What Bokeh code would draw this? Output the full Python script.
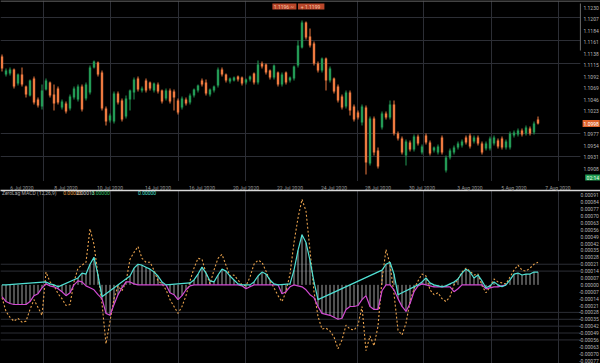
from bokeh.plotting import figure
from bokeh.models import ColumnDataSource, Range1d, FixedTicker, Span
from bokeh.core.properties import value
from bokeh.layouts import column
from bokeh.embed import file_html
from bokeh.resources import INLINE

# ---------------- price data (OHLC) ----------------
open_ = [1.1132, 1.1096, 1.1098, 1.1106, 1.1078, 1.1096, 1.1072, 1.1054, 1.1088, 1.1046,
         1.1032, 1.1066, 1.1080, 1.1056, 1.1068, 1.1030, 1.1038, 1.1028, 1.1050, 1.1046,
         1.1072, 1.1048, 1.1060, 1.1110, 1.1120, 1.1100, 1.1028, 1.1004, 1.1002, 1.1058,
         1.1044, 1.1012, 1.1046, 1.1060, 1.1088, 1.1064, 1.1084, 1.1080, 1.1064, 1.1076,
         1.1064, 1.1048, 1.1064, 1.1062, 1.1044, 1.1030, 1.1046, 1.1040, 1.1054, 1.1064,
         1.1084, 1.1080, 1.1056, 1.1064, 1.1074, 1.1106, 1.1096, 1.1082, 1.1084, 1.1092,
         1.1090, 1.1080, 1.1086, 1.1098, 1.1080, 1.1118, 1.1116, 1.1104, 1.1090, 1.1100,
         1.1076, 1.1100, 1.1084, 1.1088, 1.1114, 1.1150, 1.1200, 1.1172, 1.1158, 1.1118,
         1.1104, 1.1128, 1.1084, 1.1088, 1.1072, 1.1052, 1.1032, 1.1060, 1.1032, 1.1020,
         1.1000, 1.1030, 1.0918, 1.1008, 1.0944, 1.0990, 1.1018, 1.1010, 1.1036, 1.0978,
         1.0968, 1.0934, 1.0960, 1.0946, 1.0972, 1.0940, 1.0974, 1.0960, 1.0944, 1.0940,
         1.0970, 1.0904, 1.0930, 1.0940, 1.0950, 1.0954, 1.0970, 1.0974, 1.0962, 1.0970,
         1.0958, 1.0948, 1.0948, 1.0958, 1.0964, 1.0968, 1.0950, 1.0950, 1.0974, 1.0976,
         1.0984, 1.0978, 1.0988, 1.0980, 1.1006]
close = [1.1108, 1.1104, 1.1106, 1.1072, 1.1096, 1.1076, 1.1056, 1.1084, 1.1040, 1.1034,
         1.1064, 1.1084, 1.1054, 1.1038, 1.1040, 1.1042, 1.1022, 1.1052, 1.1068, 1.1072,
         1.1026, 1.1076, 1.1110, 1.1122, 1.1096, 1.1028, 1.1002, 1.1014, 1.1058, 1.1040,
         1.1006, 1.1048, 1.1064, 1.1086, 1.1066, 1.1068, 1.1064, 1.1068, 1.1078, 1.1062,
         1.1042, 1.1064, 1.1042, 1.1050, 1.1020, 1.1048, 1.1038, 1.1054, 1.1066, 1.1074,
         1.1076, 1.1058, 1.1066, 1.1072, 1.1106, 1.1096, 1.1084, 1.1088, 1.1090, 1.1086,
         1.1078, 1.1086, 1.1092, 1.1080, 1.1116, 1.1112, 1.1100, 1.1090, 1.1114, 1.1076,
         1.1096, 1.1080, 1.1090, 1.1112, 1.1154, 1.1200, 1.1170, 1.1154, 1.1118, 1.1104,
         1.1128, 1.1084, 1.1108, 1.1062, 1.1044, 1.1030, 1.1060, 1.1024, 1.1006, 1.1010,
         1.1032, 1.0920, 1.1008, 1.0940, 1.0912, 1.1018, 1.1010, 1.1036, 1.0978, 1.0968,
         1.0940, 1.0962, 1.0946, 1.0972, 1.0958, 1.0952, 1.0960, 1.0938, 1.0950, 1.0952,
         1.0940, 1.0930, 1.0944, 1.0950, 1.0958, 1.0962, 1.0960, 1.0952, 1.0970, 1.0958,
         1.0940, 1.0958, 1.0968, 1.0970, 1.0952, 1.0950, 1.0962, 1.0978, 1.0980, 1.0984,
         1.0976, 1.0990, 1.0978, 1.0998, 1.0998]
high = [1.1136, 1.1108, 1.1110, 1.1108, 1.1098, 1.1110, 1.1074, 1.1086, 1.1092, 1.1050,
        1.1076, 1.1088, 1.1082, 1.1076, 1.1072, 1.1046, 1.1042, 1.1056, 1.1072, 1.1076,
        1.1076, 1.1080, 1.1114, 1.1124, 1.1122, 1.1104, 1.1032, 1.1018, 1.1062, 1.1062,
        1.1048, 1.1054, 1.1066, 1.1090, 1.1092, 1.1072, 1.1088, 1.1082, 1.1080, 1.1080,
        1.1066, 1.1068, 1.1068, 1.1066, 1.1048, 1.1052, 1.1050, 1.1058, 1.1068, 1.1076,
        1.1088, 1.1086, 1.1068, 1.1074, 1.1110, 1.1110, 1.1098, 1.1090, 1.1092, 1.1094,
        1.1092, 1.1088, 1.1094, 1.1100, 1.1124, 1.1122, 1.1118, 1.1106, 1.1116, 1.1102,
        1.1100, 1.1102, 1.1092, 1.1114, 1.1164, 1.1204, 1.1202, 1.1188, 1.1162, 1.1122,
        1.1130, 1.1130, 1.1112, 1.1090, 1.1076, 1.1056, 1.1064, 1.1064, 1.1036, 1.1024,
        1.1036, 1.1034, 1.1012, 1.1012, 1.0950, 1.1022, 1.1022, 1.1044, 1.1044, 1.0982,
        1.0972, 1.0966, 1.0964, 1.0976, 1.0976, 1.0956, 1.0978, 1.0964, 1.0952, 1.0956,
        1.0974, 1.0934, 1.0948, 1.0954, 1.0962, 1.0966, 1.0974, 1.0978, 1.0974, 1.0974,
        1.0962, 1.0962, 1.0972, 1.0974, 1.0968, 1.0972, 1.0966, 1.0982, 1.0984, 1.0988,
        1.0988, 1.0994, 1.0992, 1.1002, 1.1012]
low = [1.1102, 1.1092, 1.1094, 1.1068, 1.1074, 1.1072, 1.1050, 1.1052, 1.1036, 1.1030,
       1.1026, 1.1064, 1.1050, 1.1024, 1.1036, 1.1026, 1.1018, 1.1024, 1.1046, 1.1042,
       1.1022, 1.1044, 1.1056, 1.1108, 1.1092, 1.1024, 1.0994, 1.1000, 1.0998, 1.1036,
       1.1002, 1.1008, 1.1024, 1.1046, 1.1062, 1.1060, 1.1060, 1.1064, 1.1060, 1.1058,
       1.1038, 1.1044, 1.1038, 1.1024, 1.1016, 1.1026, 1.1034, 1.1036, 1.1050, 1.1060,
       1.1072, 1.1054, 1.1052, 1.1060, 1.1070, 1.1092, 1.1080, 1.1078, 1.1082, 1.1082,
       1.1074, 1.1076, 1.1082, 1.1076, 1.1076, 1.1108, 1.1096, 1.1086, 1.1086, 1.1072,
       1.1072, 1.1076, 1.1080, 1.1084, 1.1110, 1.1148, 1.1166, 1.1150, 1.1114, 1.1100,
       1.1100, 1.1064, 1.1080, 1.1058, 1.1040, 1.1026, 1.1028, 1.1014, 1.1002, 1.1006,
       1.0994, 1.0896, 1.0914, 1.0934, 1.0908, 1.0986, 1.1006, 1.1006, 1.0974, 1.0964,
       1.0936, 1.0914, 1.0942, 1.0942, 1.0954, 1.0936, 1.0956, 1.0934, 1.0940, 1.0936,
       1.0936, 1.0900, 1.0926, 1.0936, 1.0946, 1.0950, 1.0956, 1.0948, 1.0958, 1.0954,
       1.0936, 1.0944, 1.0944, 1.0954, 1.0948, 1.0946, 1.0946, 1.0946, 1.0970, 1.0972,
       1.0972, 1.0974, 1.0974, 1.0976, 1.0996]

# ---------------- oscillator data ----------------
osc = [-0.00013, -0.00027, -0.00033, -0.00037, -0.00034, -0.00038, -0.00037, -0.00025, -0.00015, -0.00023,
       -0.00031, 0.00013, 0.00003, -0.00001, -0.00009, -0.00014, -0.00021, -0.00020, 0.00003, 0.00017,
       0.00020, 0.00023, 0.00057, 0.00041, 0.00010, -0.00019, -0.00060, -0.00037, -0.00014, -0.00001,
       -0.00006, 0.00003, 0.00026, 0.00033, 0.00039, 0.00027, 0.00023, 0.00023, 0.00015, 0.00004,
       0.00001, -0.00005, -0.00015, -0.00022, -0.00029, -0.00022, -0.00011, 0.00004, 0.00017, 0.00027,
       0.00026, 0.00012, 0.00001, 0.00015, 0.00027, 0.00031, 0.00020, 0.00009, 0.00010, 0.00005,
       0.00000, -0.00001, 0.00008, 0.00021, 0.00025, 0.00023, 0.00014, 0.00004, -0.00003, -0.00011,
       -0.00017, -0.00007, 0.00011, 0.00043, 0.00068, 0.00087, 0.00075, 0.00035, -0.00007, -0.00032,
       -0.00045, -0.00044, -0.00047, -0.00053, -0.00065, -0.00056, -0.00041, -0.00045, -0.00046, -0.00041,
       -0.00022, -0.00067, -0.00052, -0.00062, -0.00042, 0.00005, 0.00036, 0.00021, -0.00009, -0.00046,
       -0.00051, -0.00039, -0.00017, -0.00004, 0.00004, 0.00011, 0.00009, -0.00005, -0.00010, -0.00008,
       -0.00014, -0.00017, -0.00012, 0.00000, 0.00006, 0.00013, 0.00017, 0.00014, 0.00010, 0.00011,
       -0.00001, -0.00008, -0.00002, 0.00006, 0.00003, 0.00002, 0.00001, 0.00008, 0.00015, 0.00020,
       0.00015, 0.00014, 0.00017, 0.00021, 0.00023]
N_ = None
macd_pos = [0.0, 0.0, N_, N_, N_, N_, N_, N_, N_, N_,
            N_, 0.00003, 0.00001, 0.0, -0.00002, N_, N_, N_, N_, 0.00007,
            0.00012, 0.00011, 0.00021, 0.00028, 0.00010, -0.00012, N_, N_, N_, N_,
            N_, N_, 0.00009, 0.00017, 0.00021, 0.00020, 0.00018, 0.00016, 0.00013, 0.00009,
            0.00003, 0.0, N_, N_, N_, N_, N_, 0.00002, 0.00005, 0.00011,
            0.00018, 0.00012, 0.00004, 0.00003, 0.00010, 0.00016, 0.00014, 0.00009, 0.00005, 0.00001,
            0.0, N_, 0.0, 0.00003, 0.00009, 0.00013, 0.00011, 0.00005, 0.00001, 0.0,
            N_, N_, 0.00001, 0.00015, 0.00035, 0.00051, 0.00043, 0.00025, 0.00003, -0.00015,
            N_, N_, N_, N_, N_, N_, N_, N_, N_, N_,
            N_, N_, N_, N_, N_, 0.00015, 0.00021, 0.00023, 0.00011, -0.00010,
            N_, N_, N_, N_, 0.0, 0.00003, 0.00007, 0.00002, 0.0, -0.00001,
            -0.00002, -0.00001, 0.00001, 0.00003, 0.00006, 0.00012, 0.00016, 0.00013, 0.00007, 0.00010,
            0.00004, -0.00003, -0.00001, 0.00003, 0.0, -0.00002, 0.0, 0.00005, 0.00011, 0.00012,
            0.00010, 0.00011, 0.00011, 0.00013, 0.00013]
signal = [-0.00012, -0.00017, -0.00019, -0.00020, -0.00020, -0.00020, -0.00020, -0.00017, -0.00011, -0.00009,
          -0.00003, 0.00001, -0.00001, -0.00002, -0.00004, -0.00007, -0.00011, -0.00008, 0.0, 0.00004,
          0.00003, -0.00001, -0.00003, -0.00005, -0.00010, -0.00014, -0.00029, -0.00031, -0.00020, -0.00010,
          -0.00003, 0.00003, 0.00003, 0.00001, 0.0, 0.0, 0.0, 0.0, 0.0, 0.0,
          0.0, 0.0, -0.00008, -0.00010, -0.00015, -0.00011, -0.00005, -0.00001, 0.0, 0.0,
          0.0, 0.0, 0.0, 0.0, 0.0, 0.0, 0.0, 0.0, 0.0, 0.0,
          -0.00001, -0.00004, -0.00002, 0.0, 0.0, 0.0, 0.0, 0.0, 0.0, 0.0,
          -0.00009, -0.00007, -0.00002, 0.0, -0.00001, -0.00002, -0.00005, -0.00010, -0.00013, -0.00022,
          -0.00029, -0.00030, -0.00031, -0.00033, -0.00035, -0.00034, -0.00025, -0.00022, -0.00022, -0.00021,
          -0.00015, -0.00011, -0.00022, -0.00025, -0.00025, -0.00006, 0.0, 0.0, -0.00005, -0.00014,
          -0.00022, -0.00027, -0.00019, -0.00007, -0.00001, 0.00001, 0.0, -0.00001, -0.00002, -0.00002,
          -0.00002, -0.00002, -0.00002, -0.00007, -0.00004, 0.0, 0.0, 0.0, 0.0, 0.0,
          0.0, -0.00004, -0.00003, -0.00002, -0.00002, -0.00001, 0.0, N_, N_, N_,
          N_, N_, N_, N_, N_]

# ---------------- axis / tick data ----------------
price_ticks = [1.0908, 1.0931, 1.0954, 1.0977, 1.1023, 1.1046, 1.1069, 1.1092, 1.1115,
               1.1138, 1.1161, 1.1184, 1.1207, 1.1230]
price_grid = [1.0932, 1.0978, 1.1118, 1.1164, 1.1210]
osc_ticks = [-0.00077, -0.0007, -0.00063, -0.00056, -0.00049, -0.00042, -0.00035, -0.00028,
             -0.00021, -0.00014, -0.00007, 0.0, 0.00007, 0.00014, 0.00021, 0.00028, 0.00035,
             0.00042, 0.00049, 0.00056, 0.00063, 0.0007, 0.00077, 0.00084, 0.00091]
osc_grid = [0.00021, 0.00014, -0.00028, -0.00035, -0.00042, -0.00049, -0.00056]
grid_bars = [10.4, 27.1, 44.1, 60.9, 88.9, 105.4, 122.4, 139.1]
date_ticks = [5, 16, 27, 39, 50, 61, 72, 83, 94, 105, 117, 128, 139]
date_labels = ["6 Jul 2020", "8 Jul 2020", "10 Jul 2020", "14 Jul 2020", "16 Jul 2020",
               "20 Jul 2020", "22 Jul 2020", "24 Jul 2020", "28 Jul 2020", "30 Jul 2020",
               "3 Aug 2020", "5 Aug 2020", "7 Aug 2020"]
timer_text = "02:14"
header_texts = ["1.1196  ~", "+  1.1199"]

FONT = "Roboto"
BG = "#000000"
GRID = "#2c2e35"
GREEN = "#239a55"
ORANGE = "#ee7a40"
LBL = "#b4b4b4"

X0, X1 = -0.375, 149.625      # bar axis: 4 px per bar over the 600 px frame
GRID_END = 144.6              # horizontal grid lines stop before the price scale
SCALE_X = 149.2               # right edge of the price-scale labels
TAG_X = 147.3                 # centre of the price tags

n = len(close)
xs = list(range(n))
colors = [GREEN if c >= o else ORANGE for o, c in zip(open_, close)]
src = ColumnDataSource(dict(
    x=xs, h=high, l=low,
    top=[max(o, c) for o, c in zip(open_, close)],
    bottom=[min(o, c) for o, c in zip(open_, close)],
    color=colors))

x_range = Range1d(X0, X1)


def base_fig(height, y_range, **kw):
    p = figure(width=600, height=height, x_range=x_range, y_range=y_range,
               output_backend="svg", toolbar_location=None, y_axis_location=None,
               min_border_left=0, min_border_right=0, min_border_top=0, min_border_bottom=0,
               background_fill_color=BG, border_fill_color=BG, outline_line_color=None, **kw)
    p.ygrid.visible = False
    p.xgrid.ticker = FixedTicker(ticks=grid_bars)
    p.xgrid.grid_line_color = GRID
    return p


def scale_labels(p, ticks, fmt):
    p.text(x=[SCALE_X] * len(ticks), y=ticks, text=[fmt.format(t) for t in ticks],
           text_font=value(FONT), text_font_size="5px", text_color=LBL,
           text_align="right", text_baseline="middle")


# ---------------- upper pane ----------------
p1 = base_fig(181, Range1d(1.0882, 1.1244), x_axis_location=None)
p1.segment(x0=[X0] * len(price_grid), y0=price_grid, x1=[GRID_END] * len(price_grid),
           y1=price_grid, line_color=GRID, line_width=1)
p1.segment(x0="x", y0="h", x1="x", y1="l", source=src, line_color="color", line_width=1)
p1.vbar(x="x", width=0.6, top="top", bottom="bottom", source=src,
        fill_color="color", line_color=None)
p1.add_layout(Span(location=1.12432, dimension="width", line_color="#5a5a5a", line_width=1.5))
scale_labels(p1, price_ticks, "{:.4f}")

# current-price tag
p1.rect(x=[TAG_X], y=[close[-1]], width=4.3, height=0.0014, fill_color="#e0622a", line_color=None)
p1.text(x=[TAG_X], y=[close[-1]], text=[f"{close[-1]:.4f}"], text_font=value(FONT),
        text_font_size="5px", text_color="#ffffff", text_align="center", text_baseline="middle")
# bar-timer tag
p1.rect(x=[TAG_X + 0.4], y=[1.0890], width=3.8, height=0.0012, fill_color="#1f9a50", line_color=None)
p1.text(x=[TAG_X + 0.4], y=[1.0890], text=[timer_text], text_font=value(FONT),
        text_font_size="5px", text_color="#e8ffe8", text_align="center", text_baseline="middle")
# price-scale slider
p1.segment(x0=[144.6], y0=[1.1238], x1=[144.6], y1=[1.1144], line_color="#6a6a6a", line_width=1)
# header boxes
p1.rect(x=[70.6, 77.3], y=[1.1232, 1.1232], width=[6.0, 6.6], height=0.0012,
        fill_color="#b8462a", line_color=None)
p1.text(x=[70.6, 77.3], y=[1.1232, 1.1232], text=header_texts, text_font=value(FONT),
        text_font_size="5px", text_color="#f4c4a8", text_align="center", text_baseline="middle")

# ---------------- lower pane ----------------
hist = []
for m, s in zip(macd_pos, signal):
    if m is not None and m > 0:
        hist.append(m)
    elif s is not None:
        hist.append(s)
    else:
        hist.append(0.0)

cx = [x for x, v in zip(xs, macd_pos) if v is not None]
cv = [v for v in macd_pos if v is not None]
mx = [x for x, v in zip(xs, signal) if v is not None]
mv = [v for v in signal if v is not None]

p2 = base_fig(182, Range1d(-0.0008, 0.00096), x_axis_location="above")
p2.segment(x0=[X0] * len(osc_grid), y0=osc_grid, x1=[GRID_END] * len(osc_grid),
           y1=osc_grid, line_color=GRID, line_width=1)
p2.segment(x0=xs, y0=[0.0] * n, x1=xs, y1=hist, line_color="#d6d6d6", line_alpha=0.75,
           line_width=1)
p2.line(xs, osc, line_color="#e6a04c", line_width=1.1, line_dash="2 2")
p2.line(mx, mv, line_color="#d24ad2", line_width=1.2)
p2.line(cx, cv, line_color="#4fe0d4", line_width=1.2)
scale_labels(p2, osc_ticks, "{:.5f}")

xa = p2.xaxis[0]
xa.ticker = FixedTicker(ticks=date_ticks)
xa.major_label_overrides = {t: s for t, s in zip(date_ticks, date_labels)}
xa.axis_line_color = "#d8d8d8"
xa.axis_line_width = 1.5
xa.major_tick_out = 0
xa.major_tick_in = 0
xa.minor_tick_line_color = None
xa.major_label_standoff = 0
xa.major_label_text_font = FONT
xa.major_label_text_font_size = "5px"
xa.major_label_text_color = "#9a9a9a"

# indicator legend line
title_x = [0.0, 15.3, 18.6, 22.4, 34.0]
title_t = ["ZeroLag MACD (12,26,9)", "0.00023", "0.00013", "0.00000", "0.00000"]
title_c = ["#a8a8a8", "#e6a04c", "#d0d0d0", "#39c06a", "#4fe0d4"]
p2.text(x=title_x, y=[0.00093] * len(title_x), text=title_t, text_color=title_c,
        text_font=value(FONT), text_font_size="5px", text_baseline="middle")

layout = column(p1, p2, spacing=0)
html = file_html(layout, INLINE, title="chart")
html = html.replace("</head>",
                    "<style>html,body{margin:0;padding:0;background:#000;overflow:hidden}</style></head>", 1)
open("out.html", "w").write(html)
